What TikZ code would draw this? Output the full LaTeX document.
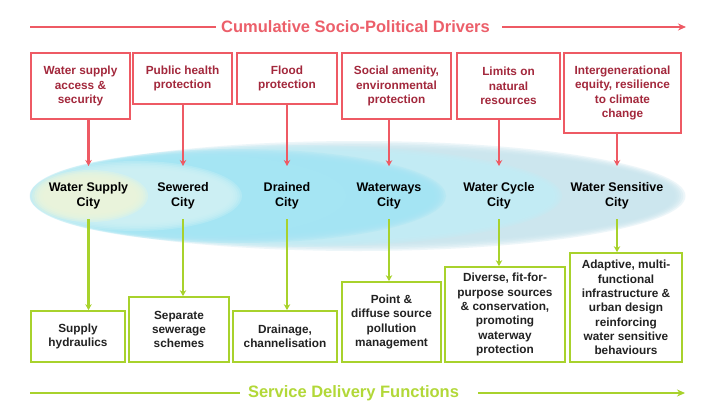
\documentclass[tikz,border=0pt]{standalone}
\usepackage{fontspec}
\setmainfont{Liberation Sans}
\usetikzlibrary{arrows.meta}
\definecolor{rline}{HTML}{EE5A64}
\definecolor{rtext}{HTML}{A3283C}
\definecolor{rtitle}{HTML}{EC5F6A}
\definecolor{gline}{HTML}{A8D22C}
\definecolor{gtitle}{HTML}{B2D838}
\definecolor{gtext}{HTML}{222222}
\definecolor{eA}{HTML}{C8E4EE}
\definecolor{eB}{HTML}{C2EEF7}
\definecolor{eC}{HTML}{A2E4F3}
\definecolor{eD}{HTML}{A8E8F4}
\definecolor{eE}{HTML}{D2F2F3}
\definecolor{eF}{HTML}{EEF6DA}
\newcommand\softell[5]{%
  \foreach \k in {0,...,5} {
    \fill[#1, opacity=0.32] (#2,#3) ellipse [x radius={#4-2.2*\k}, y radius={#5-1.6*\k}];
  }%
}
\tikzset{
  rbox/.style={draw=rline, line width=1.7pt, fill=white, inner sep=0pt, align=center,
    text=rtext, font=\fontsize{11.8}{14.5}\selectfont\bfseries},
  gbox/.style={draw=gline, line width=1.7pt, fill=white, inner sep=0pt, align=center,
    text=gtext, font=\fontsize{11.8}{14.3}\selectfont\bfseries},
  city/.style={inner sep=0pt, align=center, text=black, font=\fontsize{12.5}{15}\selectfont\bfseries},
  rarr/.style={draw=rline, line width=2.2pt, -{Stealth[length=6pt,width=6.5pt]}},
  garr/.style={draw=gline, line width=2.2pt, -{Stealth[length=6pt,width=6.5pt]}},
  rttl/.style={text=rtitle, font=\fontsize{16.5}{19}\selectfont\bfseries, inner sep=0pt},
  gttl/.style={text=gtitle, font=\fontsize{16.5}{19}\selectfont\bfseries, inner sep=0pt},
}
\begin{document}
\begin{tikzpicture}[x=1pt,y=-1pt]
\useasboundingbox (0,0) rectangle (722,407);
\fill[white] (0,0) rectangle (722,407);
% ellipses
\softell{eA}{357.5}{196}{328}{55}
\softell{eB}{296}{196}{266}{51}
\softell{eC}{238}{196}{208}{47}
\softell{eD}{188}{196}{158}{42}
\softell{eE}{136}{196}{106}{35}
\softell{eF}{90}{196}{58}{26}
% top title
\node[rttl] (tt) at (355.5,27) {Cumulative Socio-Political Drivers};
\coordinate (tl) at (30,27);
\coordinate (tr) at (686,27);
\draw[draw=rline, line width=1.5pt] (tl) -- ([xshift=-5pt]tt.west);
\draw[draw=rline, line width=1.5pt, -{Stealth[length=8pt,width=7pt]}] ([xshift=12pt]tt.east) -- (tr);
% red boxes
\node[rbox, minimum width=99pt, minimum height=66pt] (r1) at (80.5,86) {Water supply\\access \&\\security};
\node[rbox, minimum width=99pt, minimum height=51pt] (r2) at (182.5,78.5) {Public health\\protection};
\node[rbox, minimum width=100pt, minimum height=51pt] (r3) at (287,78.5) {Flood\\protection};
\node[rbox, minimum width=109pt, minimum height=66pt] (r4) at (396.5,86) {Social amenity,\\environmental\\protection};
\node[rbox, minimum width=103pt, minimum height=66pt] (r5) at (508.5,86) {Limits on\\natural\\resources};
\node[rbox, minimum width=117pt, minimum height=80pt] (r6) at (622.5,93) {Intergenerational\\equity, resilience\\to climate\\change};
% cities
\node[city] (c1) at (88.5,195.5) {Water Supply\\City};
\node[city] (c2) at (183,195.5) {Sewered\\City};
\node[city] (c3) at (287,195.5) {Drained\\City};
\node[city] (c4) at (389,195.5) {Waterways\\City};
\node[city] (c5) at (499,195.5) {Water Cycle\\City};
\node[city] (c6) at (617,195.5) {Water Sensitive\\City};
% green boxes
\node[gbox, minimum width=94pt, minimum height=51pt] (g1) at (78,336.5) {Supply\\hydraulics};
\node[gbox, minimum width=100pt, minimum height=65pt] (g2) at (179,329.5) {Separate\\sewerage\\schemes};
\node[gbox, minimum width=104pt, minimum height=51pt] (g3) at (285,336.5) {Drainage,\\channelisation};
\node[gbox, minimum width=99pt, minimum height=80pt] (g4) at (391.5,322) {Point \&\\diffuse source\\pollution\\management};
\node[gbox, minimum width=120pt, minimum height=95pt] (g5) at (505,314.5) {Diverse, fit-for-\\purpose sources\\\& conservation,\\promoting\\waterway\\protection};
\node[gbox, minimum width=112pt, minimum height=109pt] (g6) at (626,307.5) {Adaptive, multi-\\functional\\infrastructure \&\\urban design\\reinforcing\\water sensitive\\behaviours};
% arrows
\foreach \i in {1,...,6} {
  \draw[rarr, shorten >=16pt] (r\i.south -| c\i) -- (c\i.north);
  \draw[garr, shorten <=10pt] (c\i.south) -- (g\i.north -| c\i);
}
% bottom title
\node[gttl] (bt) at (353.5,393) {Service Delivery Functions};
\coordinate (bl) at (30,393);
\coordinate (br) at (685,393);
\draw[draw=gline, line width=1.5pt] (bl) -- ([xshift=-8pt]bt.west);
\draw[draw=gline, line width=1.5pt, -{Stealth[length=8pt,width=7pt]}] ([xshift=19pt]bt.east) -- (br);
\end{tikzpicture}
\end{document}
